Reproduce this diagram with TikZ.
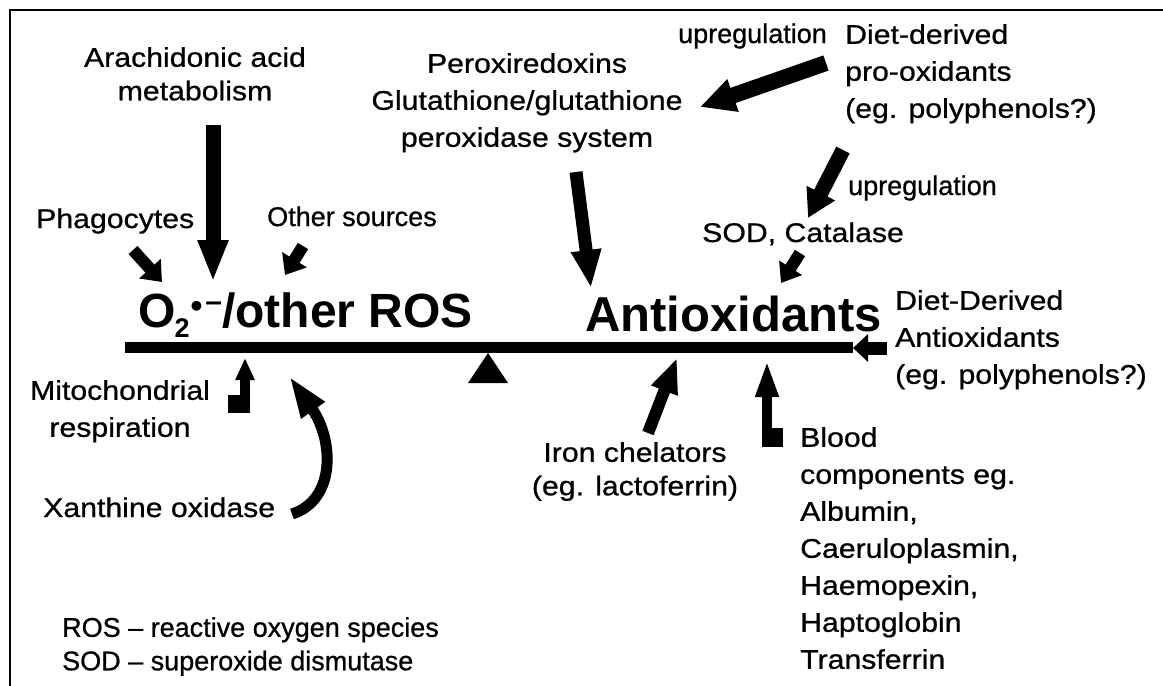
\documentclass[tikz,border=0pt]{standalone}
\usepackage{fontspec}
\setmainfont{Liberation Sans}
\newfontfamily\lbfont[FakeStretch=1.12,FakeBold=0.8]{Liberation Sans}
\newfontfamily\nrfont[FakeBold=0.8]{Liberation Sans}
\usetikzlibrary{arrows.meta}
\tikzset{
  lbl/.style={inner sep=0pt, font=\lbfont\fontsize{27}{37}\selectfont},
  lbltight/.style={inner sep=0pt, font=\lbfont\fontsize{27}{33.5}\selectfont},
  lblnarrow/.style={inner sep=0pt, font=\nrfont\fontsize{27}{33.5}\selectfont},
  big/.style={inner sep=0pt, font=\bfseries\fontsize{49}{55}\selectfont},
  fat/.style n args={3}{line width=#1, -{Triangle[length=#2,width=#3]}},
  foot/.style={fill=black},
}
\begin{document}
\begin{tikzpicture}[x=1pt,y=-1pt]
\useasboundingbox (0,0) rectangle (1163,686);
% frame
\draw[line width=2pt] (10,686) -- (10,10) -- (1163,10);

% texts
\node[lbltight, anchor=north, align=center] (arach) at (195,47) {Arachidonic acid\\metabolism};
\node[lbl, anchor=base west] (phag) at (36,228) {Phagocytes};
\node[lblnarrow, anchor=base west] (other) at (267,226) {Other sources};
\node[lbl, anchor=north, align=center] (perox) at (527,53) {Peroxiredoxins\\Glutathione/glutathione\\peroxidase system};
\node[lblnarrow, anchor=base west] (up1) at (678,43) {upregulation};
\node[lbl, anchor=north west, align=left] (dietpro) at (845,24) {Diet-derived\\pro-oxidants\\(eg. polyphenols?)};
\node[lblnarrow, anchor=base west] (up2) at (848,195) {upregulation};
\node[lbl, anchor=base west] (sod) at (702,242) {SOD, Catalase};
\node[big, anchor=base west, font=\bfseries\fontsize{48}{55}\selectfont] (ros) at (138,327) {O\kern-1pt\raisebox{-10pt}{\fontsize{27}{27}\selectfont 2}\kern1pt\raisebox{10pt}{\fontsize{34}{34}\selectfont •}\kern3pt\raisebox{16pt}{\fontsize{30}{30}\selectfont –}/other ROS};
\node[big, anchor=base west] (anti) at (585,331) {Antioxidants};
\node[lbl, anchor=north west, align=left] (dietanti) at (895,290) {Diet-Derived\\Antioxidants\\(eg. polyphenols?)};
\node[lbl, anchor=north, align=center] (mito) at (120,380) {Mitochondrial\\respiration};
\node[lbl, anchor=base west] (xan) at (43,517) {Xanthine oxidase};
\node[lbltight, anchor=north, align=center] (iron) at (635,442) {Iron chelators\\(eg. lactoferrin)};
\node[lbl, anchor=north west, align=left] (blood) at (800,427) {Blood\\components eg.\\Albumin,\\Caeruloplasmin,\\Haemopexin,\\Haptoglobin\\Transferrin};
\node[lblnarrow, anchor=north west, align=left] (legend) at (62,617) {ROS – reactive oxygen species\\SOD – superoxide dismutase};

% balance beam and fulcrum
\coordinate (beamL) at (125,347);
\coordinate (beamR) at (853,347);
\draw[line width=11pt] (beamL) -- (beamR);
\coordinate (fulA) at (488,353);
\coordinate (fulB) at (468,383);
\coordinate (fulC) at (508,383);
\fill (fulA) -- (fulB) -- (fulC) -- cycle;

% arrows
\coordinate (a1s) at (213,125); \coordinate (a1e) at (213,282);
\draw[fat={15pt}{42pt}{28pt}] (a1s) -- (a1e);
\coordinate (a2s) at (133,250); \coordinate (a2e) at (162,282);
\draw[fat={12pt}{18pt}{28pt}] (a2s) -- (a2e);
\coordinate (a3s) at (303,246); \coordinate (a3e) at (285,275);
\draw[fat={12pt}{18pt}{28pt}] (a3s) -- (a3e);
\coordinate (a4s) at (576,172); \coordinate (a4e) at (591,288);
\draw[fat={13pt}{38pt}{28pt}] (a4s) -- (a4e);
\coordinate (a5s) at (826,63); \coordinate (a5e) at (700,107);
\draw[fat={16pt}{35pt}{32pt}] (a5s) -- (a5e);
\coordinate (a6s) at (843,150); \coordinate (a6e) at (808,218);
\draw[fat={15pt}{28pt}{30pt}] (a6s) -- (a6e);
\coordinate (a7s) at (800,253); \coordinate (a7e) at (781,283);
\draw[fat={12pt}{18pt}{26pt}] (a7s) -- (a7e);
\coordinate (a8s) at (887,348); \coordinate (a8e) at (853,348);
\draw[fat={13pt}{15pt}{27pt}] (a8s) -- (a8e);
% mitochondrial (L-shaped)
\fill[foot] (228,395) rectangle (250,413);
\coordinate (a9s) at (245,413); \coordinate (a9e) at (245,358);
\draw[fat={10pt}{22pt}{18pt}] (a9s) -- (a9e);
% xanthine oxidase (curved)
\coordinate (a10s) at (292,514); \coordinate (a10e) at (289,376);
\draw[fat={11pt}{42pt}{26pt}] (a10s) .. controls (336,500) and (334,440) .. (a10e);
% iron chelators
\coordinate (a11s) at (648,433); \coordinate (a11e) at (677,358);
\draw[fat={12pt}{35pt}{26pt}] (a11s) -- (a11e);
% blood components (L-shaped)
\fill[foot] (762,428) rectangle (783,447);
\coordinate (a12s) at (767,447); \coordinate (a12e) at (767,360);
\draw[fat={10pt}{37pt}{21pt}] (a12s) -- (a12e);
\end{tikzpicture}
\end{document}
